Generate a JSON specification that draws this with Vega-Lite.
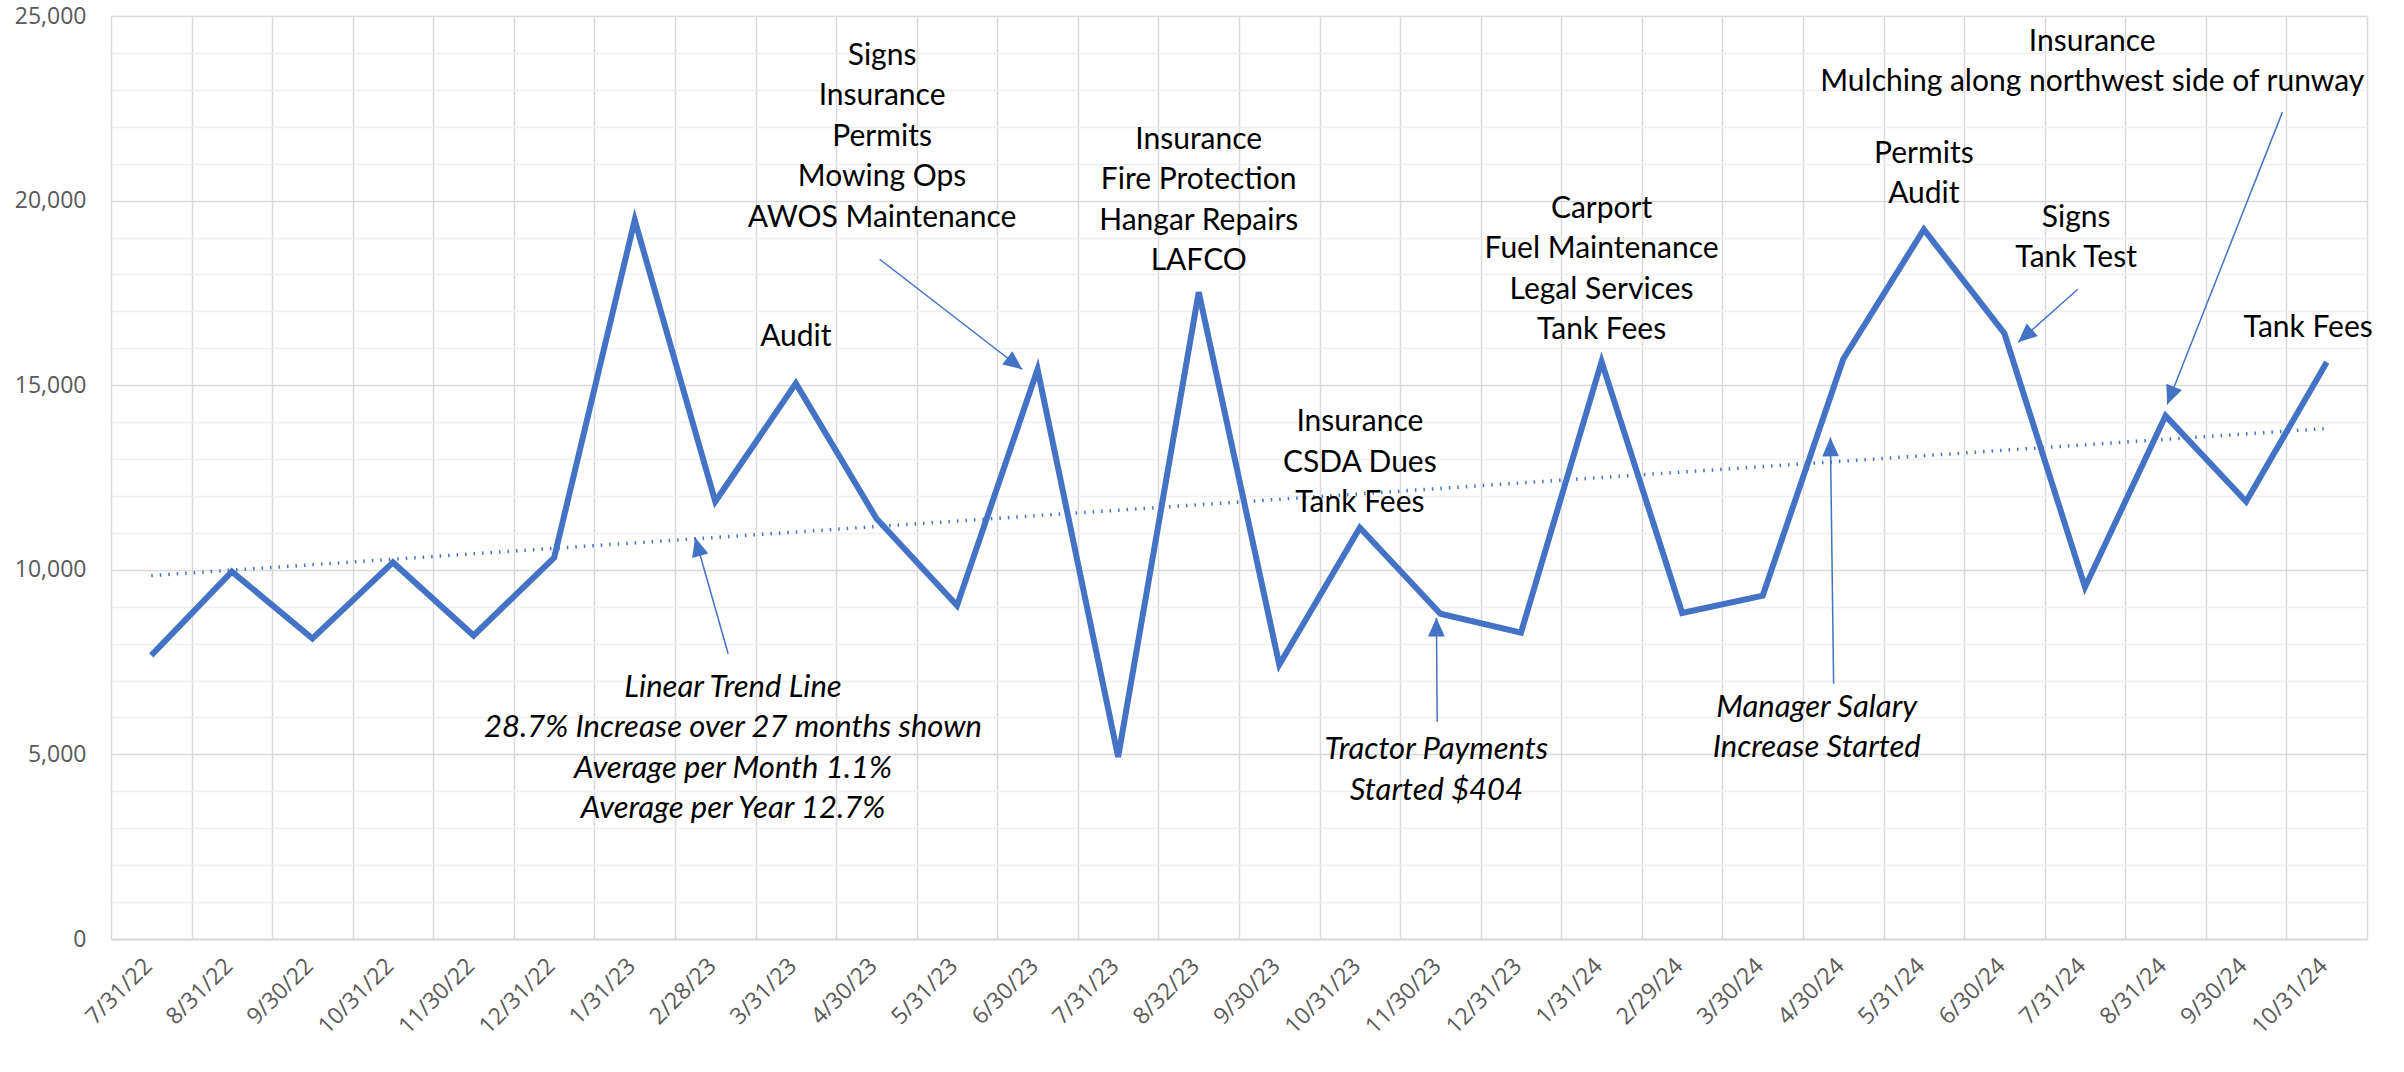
{
  "$schema": "https://vega.github.io/schema/vega-lite/v6.json",
  "autosize": "none",
  "padding": {"left": 111, "top": 16, "right": 37, "bottom": 133},
  "width": 2256,
  "height": 923,
  "background": "white",
  "config": {
    "view": {"stroke": null},
    "font": "Lato",
    "axis": {"labelOverlap": false}
  },
  "datasets": {
    "main": [
      {"i": 0, "date": "7/31/22", "v": 7680},
      {"i": 1, "date": "8/31/22", "v": 9950},
      {"i": 2, "date": "9/30/22", "v": 8140},
      {"i": 3, "date": "10/31/22", "v": 10200},
      {"i": 4, "date": "11/30/22", "v": 8220},
      {"i": 5, "date": "12/31/22", "v": 10330},
      {"i": 6, "date": "1/31/23", "v": 19470},
      {"i": 7, "date": "2/28/23", "v": 11850},
      {"i": 8, "date": "3/31/23", "v": 15050},
      {"i": 9, "date": "4/30/23", "v": 11390},
      {"i": 10, "date": "5/31/23", "v": 9030},
      {"i": 11, "date": "6/30/23", "v": 15430},
      {"i": 12, "date": "7/31/23", "v": 4930},
      {"i": 13, "date": "8/32/23", "v": 17520},
      {"i": 14, "date": "9/30/23", "v": 7430},
      {"i": 15, "date": "10/31/23", "v": 11140},
      {"i": 16, "date": "11/30/23", "v": 8810},
      {"i": 17, "date": "12/31/23", "v": 8300},
      {"i": 18, "date": "1/31/24", "v": 15640},
      {"i": 19, "date": "2/29/24", "v": 8830},
      {"i": 20, "date": "3/30/24", "v": 9300},
      {"i": 21, "date": "4/30/24", "v": 15710},
      {"i": 22, "date": "5/31/24", "v": 19220},
      {"i": 23, "date": "6/30/24", "v": 16400},
      {"i": 24, "date": "7/31/24", "v": 9530},
      {"i": 25, "date": "8/31/24", "v": 14170},
      {"i": 26, "date": "9/30/24", "v": 11850},
      {"i": 27, "date": "10/31/24", "v": 15620}
    ],
    "trend": [
      {"i": 0, "v": 9843},
      {"i": 27, "v": 13829}
    ],
    "arrows": [
      {"id": "trend", "i": 7.16, "v": 7728, "i2": 6.75, "v2": 10873},
      {"id": "signs", "i": 9.04, "v": 18411, "i2": 10.81, "v2": 15428},
      {"id": "tractor", "i": 15.96, "v": 5884, "i2": 15.95, "v2": 8704},
      {"id": "manager", "i": 20.88, "v": 6914, "i2": 20.84, "v2": 13585},
      {"id": "tanktest", "i": 23.91, "v": 17598, "i2": 23.17, "v2": 16161},
      {"id": "mulching", "i": 26.45, "v": 22397, "i2": 25.02, "v2": 14479}
    ],
    "notes": [
      {"i": 8, "v": 16306, "label": "Audit"},
      {"i": 9.07, "v": 23917, "label": "Signs\nInsurance\nPermits\nMowing Ops\nAWOS Maintenance"},
      {"i": 13, "v": 21642, "label": "Insurance\nFire Protection\nHangar Repairs\nLAFCO"},
      {"i": 15, "v": 14003, "label": "Insurance\nCSDA Dues\nTank Fees"},
      {"i": 18, "v": 19773, "label": "Carport\nFuel Maintenance\nLegal Services\nTank Fees"},
      {"i": 22, "v": 21263, "label": "Permits\nAudit"},
      {"i": 23.89, "v": 19529, "label": "Signs\nTank Test"},
      {"i": 24.09, "v": 24296, "label": "Insurance\nMulching along northwest side of runway"},
      {"i": 26.77, "v": 16550, "label": "Tank Fees"}
    ],
    "inotes": [
      {"i": 7.22, "v": 6799, "label": "Linear Trend Line\n28.7% Increase over 27 months shown\nAverage per Month 1.1%\nAverage per Year 12.7%"},
      {"i": 15.95, "v": 5119, "label": "Tractor Payments\nStarted $404"},
      {"i": 20.67, "v": 6257, "label": "Manager Salary\nIncrease Started"}
    ]
  },
  "encoding": {
    "x": {
      "field": "i", "type": "quantitative",
      "scale": {"domain": [-0.5, 27.5], "nice": false, "zero": false},
      "axis": {
        "title": null,
        "values": [-0.5, 0.5, 1.5, 2.5, 3.5, 4.5, 5.5, 6.5, 7.5, 8.5, 9.5, 10.5, 11.5, 12.5, 13.5, 14.5, 15.5, 16.5, 17.5, 18.5, 19.5, 20.5, 21.5, 22.5, 23.5, 24.5, 25.5, 26.5, 27.5],
        "labelExpr": "datum.value < 27 ? ['7/31/22','8/31/22','9/30/22','10/31/22','11/30/22','12/31/22','1/31/23','2/28/23','3/31/23','4/30/23','5/31/23','6/30/23','7/31/23','8/32/23','9/30/23','10/31/23','11/30/23','12/31/23','1/31/24','2/29/24','3/30/24','4/30/24','5/31/24','6/30/24','7/31/24','8/31/24','9/30/24','10/31/24'][datum.value + 0.5] : ''",
        "labelOffset": 37,
        "labelAngle": -45,
        "labelAlign": "right",
        "labelBaseline": "middle",
        "labelPadding": 23,
        "labelFont": "Open Sans",
        "labelFontSize": 23,
        "labelColor": "#595959",
        "labelOverlap": false,
        "labelFlush": false,
        "labelBound": false,
        "ticks": false,
        "domain": true,
        "domainColor": "#d9d9d9",
        "domainWidth": 2,
        "grid": true,
        "gridColor": "#d9d9d9",
        "gridWidth": 1.5
      }
    },
    "y": {
      "field": "v", "type": "quantitative",
      "scale": {"domain": [0, 25000], "nice": false},
      "axis": {
        "title": null,
        "values": [0, 1000, 2000, 3000, 4000, 5000, 6000, 7000, 8000, 9000, 10000, 11000, 12000, 13000, 14000, 15000, 16000, 17000, 18000, 19000, 20000, 21000, 22000, 23000, 24000, 25000],
        "labelExpr": "datum.value % 5000 === 0 ? format(datum.value, ',') : ''",
        "labelFont": "Open Sans",
        "labelFontSize": 23,
        "labelColor": "#595959",
        "labelPadding": 25,
        "labelOverlap": false,
        "labelFlush": false,
        "labelBound": false,
        "ticks": false,
        "domain": false,
        "grid": true,
        "gridWidth": 1.5,
        "gridColor": {"condition": {"test": "datum.value % 5000 === 0", "value": "#d9d9d9"}, "value": "#f0f0f0"}
      }
    }
  },
  "layer": [
    {
      "data": {"name": "main"},
      "mark": {"type": "line", "color": "#4472C4", "strokeWidth": 6}
    },
    {
      "data": {"name": "trend"},
      "mark": {"type": "line", "color": "#4472C4", "strokeWidth": 3.5, "strokeDash": [1.5, 7]}
    },
    {
      "data": {"name": "arrows"},
      "mark": {"type": "rule", "color": "#4472C4", "strokeWidth": 1.5},
      "encoding": {
        "x2": {"field": "i2"},
        "y2": {"field": "v2"}
      }
    },
    {
      "data": {"name": "arrows"},
      "transform": [{"filter": "datum.id === 'trend'"}],
      "mark": {"type": "point", "shape": "M0,0L-0.8,1.8L0.8,1.8Z", "size": 441, "filled": true, "opacity": 1, "color": "#4472C4", "angle": 344.4},
      "encoding": {
        "x": {"field": "i2", "type": "quantitative"},
        "y": {"field": "v2", "type": "quantitative"}
      }
    },
    {
      "data": {"name": "arrows"},
      "transform": [{"filter": "datum.id === 'signs'"}],
      "mark": {"type": "point", "shape": "M0,0L-0.8,1.8L0.8,1.8Z", "size": 441, "filled": true, "opacity": 1, "color": "#4472C4", "angle": 127.7},
      "encoding": {
        "x": {"field": "i2", "type": "quantitative"},
        "y": {"field": "v2", "type": "quantitative"}
      }
    },
    {
      "data": {"name": "arrows"},
      "transform": [{"filter": "datum.id === 'tractor'"}],
      "mark": {"type": "point", "shape": "M0,0L-0.8,1.8L0.8,1.8Z", "size": 441, "filled": true, "opacity": 1, "color": "#4472C4", "angle": 0},
      "encoding": {
        "x": {"field": "i2", "type": "quantitative"},
        "y": {"field": "v2", "type": "quantitative"}
      }
    },
    {
      "data": {"name": "arrows"},
      "transform": [{"filter": "datum.id === 'manager'"}],
      "mark": {"type": "point", "shape": "M0,0L-0.8,1.8L0.8,1.8Z", "size": 441, "filled": true, "opacity": 1, "color": "#4472C4", "angle": 359.3},
      "encoding": {
        "x": {"field": "i2", "type": "quantitative"},
        "y": {"field": "v2", "type": "quantitative"}
      }
    },
    {
      "data": {"name": "arrows"},
      "transform": [{"filter": "datum.id === 'tanktest'"}],
      "mark": {"type": "point", "shape": "M0,0L-0.8,1.8L0.8,1.8Z", "size": 441, "filled": true, "opacity": 1, "color": "#4472C4", "angle": 228.3},
      "encoding": {
        "x": {"field": "i2", "type": "quantitative"},
        "y": {"field": "v2", "type": "quantitative"}
      }
    },
    {
      "data": {"name": "arrows"},
      "transform": [{"filter": "datum.id === 'mulching'"}],
      "mark": {"type": "point", "shape": "M0,0L-0.8,1.8L0.8,1.8Z", "size": 441, "filled": true, "opacity": 1, "color": "#4472C4", "angle": 201.6},
      "encoding": {
        "x": {"field": "i2", "type": "quantitative"},
        "y": {"field": "v2", "type": "quantitative"}
      }
    },
    {
      "data": {"name": "notes"},
      "mark": {"type": "text", "font": "Lato", "fontSize": 30, "color": "#000000", "align": "center", "baseline": "middle", "lineBreak": "\n", "lineHeight": 40.5},
      "encoding": {
        "text": {"field": "label"}
      }
    },
    {
      "data": {"name": "inotes"},
      "mark": {"type": "text", "font": "Lato", "fontSize": 31, "fontStyle": "italic", "color": "#000000", "align": "center", "baseline": "middle", "lineBreak": "\n", "lineHeight": 40.5},
      "encoding": {
        "text": {"field": "label"}
      }
    }
  ]
}
